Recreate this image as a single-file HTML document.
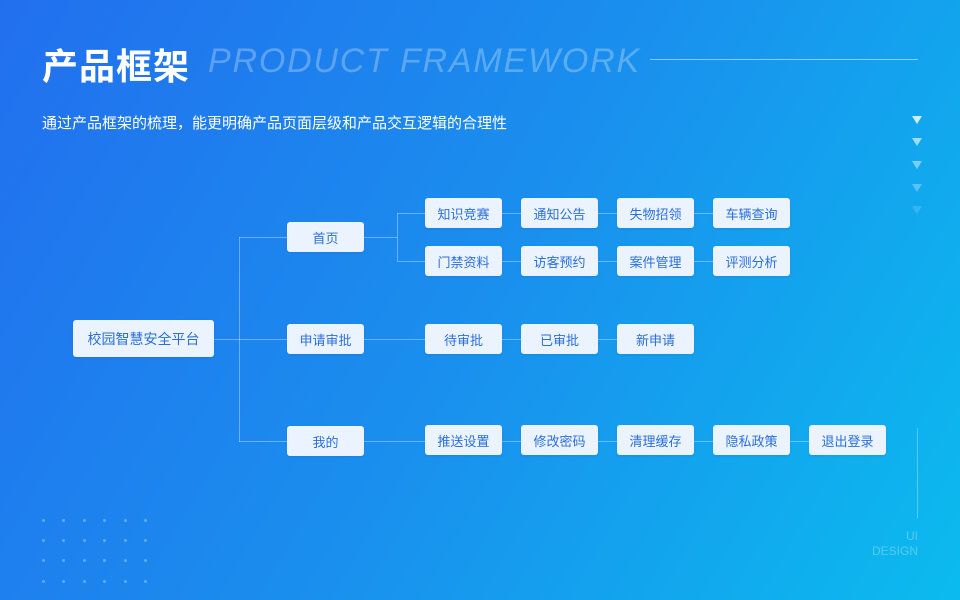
<!DOCTYPE html>
<html><head><meta charset="utf-8"><style>
*{margin:0;padding:0;box-sizing:border-box}
body{width:960px;height:600px;overflow:hidden;position:relative;background:linear-gradient(120deg,#226fee 0%,#1a8fee 50%,#0bbbee 100%);font-family:"Liberation Sans","Noto Sans CJK SC",sans-serif}
.a{position:absolute}
.t1{left:42px;top:38px;font-size:36px;font-weight:bold;color:#fff;letter-spacing:1px}
.t2{left:208px;top:42px;font-size:34px;font-style:italic;color:rgba(255,255,255,.28);letter-spacing:1.8px;white-space:nowrap}
.sub{left:42px;top:112px;font-size:15px;color:#fff}
.b{position:absolute;background:#eaf3fe;border-radius:3px;color:#2a6fdc;font-size:13px;display:flex;align-items:center;justify-content:center;height:30px;width:77px;box-shadow:0 1px 2px rgba(0,0,0,.08)}
.l{position:absolute;background:rgba(255,255,255,.35)}
.tri{position:absolute;left:912px;width:0;height:0;border-left:5px solid transparent;border-right:5px solid transparent;border-top:8px solid #fff}
.d{position:absolute;width:3px;height:3px;border-radius:50%;background:rgba(255,255,255,.3)}
</style></head><body>
<div class="a t1">产品框架</div>
<div class="a t2">PRODUCT FRAMEWORK</div>
<div class="l" style="left:650px;top:59px;width:268px;height:1px;background:rgba(255,255,255,.5)"></div>
<div class="a sub">通过产品框架的梳理，能更明确产品页面层级和产品交互逻辑的合理性</div>
<div class="tri" style="top:116px;opacity:.8"></div>
<div class="tri" style="top:138px;opacity:.6"></div>
<div class="tri" style="top:161px;opacity:.45"></div>
<div class="tri" style="top:184px;opacity:.3"></div>
<div class="tri" style="top:206px;opacity:.15"></div>

<div class="l" style="left:214px;top:339px;width:73px;height:1px"></div>
<div class="l" style="left:239px;top:237px;width:1px;height:205px"></div>
<div class="l" style="left:239px;top:237px;width:48px;height:1px"></div>
<div class="l" style="left:239px;top:441px;width:48px;height:1px"></div>
<div class="l" style="left:364px;top:237px;width:33px;height:1px"></div>
<div class="l" style="left:397px;top:213px;width:1px;height:48px"></div>
<div class="l" style="left:397px;top:213px;width:316px;height:1px"></div>
<div class="l" style="left:397px;top:261px;width:316px;height:1px"></div>
<div class="l" style="left:364px;top:339px;width:253px;height:1px"></div>
<div class="l" style="left:364px;top:441px;width:445px;height:1px"></div>

<div class="b" style="left:73px;top:320px;width:141px;height:37px;font-size:14px">校园智慧安全平台</div>
<div class="b" style="left:287px;top:222px">首页</div>
<div class="b" style="left:287px;top:324px">申请审批</div>
<div class="b" style="left:287px;top:426px">我的</div>

<div class="b" style="left:425px;top:198px">知识竞赛</div>
<div class="b" style="left:521px;top:198px">通知公告</div>
<div class="b" style="left:617px;top:198px">失物招领</div>
<div class="b" style="left:713px;top:198px">车辆查询</div>
<div class="b" style="left:425px;top:246px">门禁资料</div>
<div class="b" style="left:521px;top:246px">访客预约</div>
<div class="b" style="left:617px;top:246px">案件管理</div>
<div class="b" style="left:713px;top:246px">评测分析</div>
<div class="b" style="left:425px;top:324px">待审批</div>
<div class="b" style="left:521px;top:324px">已审批</div>
<div class="b" style="left:617px;top:324px">新申请</div>
<div class="b" style="left:425px;top:425px">推送设置</div>
<div class="b" style="left:521px;top:425px">修改密码</div>
<div class="b" style="left:617px;top:425px">清理缓存</div>
<div class="b" style="left:713px;top:425px">隐私政策</div>
<div class="b" style="left:809px;top:425px">退出登录</div>

<div class="l" style="left:917px;top:428px;width:1px;height:90px;background:rgba(255,255,255,.3)"></div>
<div class="a" style="right:42px;top:529px;font-size:12px;color:rgba(255,255,255,.3);text-align:right;line-height:15px">UI<br>DESIGN</div>

<div class="d" style="left:42px;top:519px"></div><div class="d" style="left:62px;top:519px"></div><div class="d" style="left:83px;top:519px"></div><div class="d" style="left:103px;top:519px"></div><div class="d" style="left:124px;top:519px"></div><div class="d" style="left:144px;top:519px"></div>
<div class="d" style="left:42px;top:539px"></div><div class="d" style="left:62px;top:539px"></div><div class="d" style="left:83px;top:539px"></div><div class="d" style="left:103px;top:539px"></div><div class="d" style="left:124px;top:539px"></div><div class="d" style="left:144px;top:539px"></div>
<div class="d" style="left:42px;top:559px"></div><div class="d" style="left:62px;top:559px"></div><div class="d" style="left:83px;top:559px"></div><div class="d" style="left:103px;top:559px"></div><div class="d" style="left:124px;top:559px"></div><div class="d" style="left:144px;top:559px"></div>
<div class="d" style="left:42px;top:580px"></div><div class="d" style="left:62px;top:580px"></div><div class="d" style="left:83px;top:580px"></div><div class="d" style="left:103px;top:580px"></div><div class="d" style="left:124px;top:580px"></div><div class="d" style="left:144px;top:580px"></div>
</body></html>
